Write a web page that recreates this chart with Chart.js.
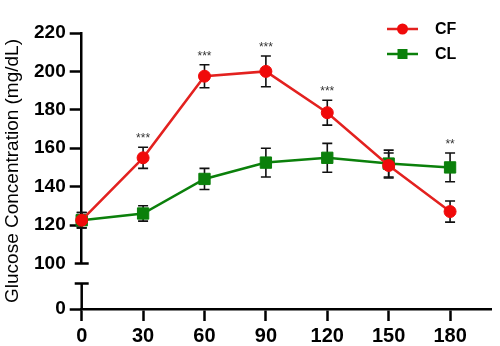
<!DOCTYPE html>
<html>
<head>
<meta charset="utf-8">
<script src="https://cdn.jsdelivr.net/npm/chart.js@4"></script>
<style>
  html, body { margin: 0; padding: 0; background: #fff; }
  #wrap { width: 500px; height: 346px; }
</style>
</head>
<body>
<div id="wrap"><canvas id="chart"></canvas></div>
<script>
// time points (min) and tick labels
const times = [0, 30, 60, 90, 120, 150, 180];
const xTicks = [0, 30, 60, 90, 120, 150, 180];
const upperTicks = [100, 120, 140, 160, 180, 200, 220];
const lowerTicks = [0];

// CF group
const cfMean = [122.5, 155, 197.5, 200, 178.5, 151, 127];
const cfErr = [4, 5.5, 6, 8, 6.5, 6.5, 5.5];
// CL group
const clMean = [122.5, 126, 144, 152.5, 155, 152, 150];
const clErr = [4, 4, 5.5, 7.5, 7.5, 7, 7.5];
// significance marks
const cfSig = ['', '***', '***', '***', '***', '', '**'];

const FONT = '"Liberation Sans", Arial, sans-serif';
const RED = '#f00a0a';
const RED_LINE = '#e3211f';
const GREEN = '#0b800b';
const BREAK_LOW = 11.2;   // top end of the lower axis segment
const BREAK_HIGH = 100;   // bottom end of the upper axis segment

const series = [
  { label: 'CF', mean: cfMean, err: cfErr, color: RED, line: RED_LINE, style: 'circle', r: 6 },
  { label: 'CL', mean: clMean, err: clErr, color: GREEN, line: GREEN, style: 'rect', r: 8 }
];

const extras = {
  id: 'extras',
  beforeDatasetsDraw(chart) {
    const { ctx, scales: { x, y } } = chart;
    ctx.save();
    ctx.strokeStyle = '#111';
    ctx.lineWidth = 1.6;
    series.forEach(s => {
      s.mean.forEach((m, i) => {
        const px = x.getPixelForValue(times[i]);
        const top = y.getPixelForValue(m + s.err[i]);
        const bot = y.getPixelForValue(m - s.err[i]);
        ctx.beginPath();
        ctx.moveTo(px, top); ctx.lineTo(px, bot);
        ctx.moveTo(px - 5, top); ctx.lineTo(px + 5, top);
        ctx.moveTo(px - 5, bot); ctx.lineTo(px + 5, bot);
        ctx.stroke();
      });
    });
    ctx.restore();
  },
  afterDraw(chart) {
    const { ctx, chartArea, scales: { x, y, yLow } } = chart;
    ctx.save();
    // broken y axis: lower segment and the two end caps
    const left = chartArea.left;
    const capLow = yLow.getPixelForValue(BREAK_LOW);
    const capHigh = y.getPixelForValue(BREAK_HIGH);
    ctx.strokeStyle = '#000';
    ctx.lineWidth = 2.5;
    ctx.beginPath();
    ctx.moveTo(left, capLow);
    ctx.lineTo(left, yLow.getPixelForValue(0) + 1);
    ctx.moveTo(left - 7, capLow); ctx.lineTo(left + 7, capLow);
    ctx.moveTo(left - 7, capHigh); ctx.lineTo(left + 7, capHigh);
    ctx.stroke();

    // significance stars
    ctx.fillStyle = '#333';
    ctx.font = '12px ' + FONT;
    ctx.textAlign = 'center';
    ctx.textBaseline = 'alphabetic';
    cfSig.forEach((t, i) => {
      if (!t) return;
      const topVal = Math.max(cfMean[i] + cfErr[i], clMean[i] + clErr[i]);
      ctx.fillText(t, x.getPixelForValue(times[i]), y.getPixelForValue(topVal) - 5);
    });

    // y title
    ctx.fillStyle = '#000';
    ctx.font = '19px ' + FONT;
    ctx.textBaseline = 'middle';
    ctx.translate(13, (chartArea.top + chartArea.bottom) / 2);
    ctx.rotate(-Math.PI / 2);
    ctx.fillText('Glucose Concentration (mg/dL)', 0, 0);
    ctx.restore();

    // legend
    ctx.save();
    series.forEach((s, k) => {
      const ly = 29 + k * 25;
      ctx.strokeStyle = s.line;
      ctx.lineWidth = 2.5;
      ctx.beginPath();
      ctx.moveTo(387, ly); ctx.lineTo(418, ly);
      ctx.stroke();
      ctx.fillStyle = s.color;
      if (s.style === 'circle') {
        ctx.beginPath(); ctx.arc(402.5, ly, 5.5, 0, Math.PI * 2); ctx.fill();
      } else {
        ctx.fillRect(402.5 - 5, ly - 5, 10, 10);
      }
      ctx.fillStyle = '#000';
      ctx.font = 'bold 16px ' + FONT;
      ctx.textAlign = 'left';
      ctx.textBaseline = 'middle';
      ctx.fillText(s.label, 435, ly + 1);
    });
    ctx.restore();
  }
};

const yFont = { family: FONT, size: 19, weight: 'bold' };
const xFont = { family: FONT, size: 20, weight: 'bold' };
const axisGrid = { drawOnChartArea: false, tickLength: 12, tickWidth: 2.5, tickColor: '#000' };

new Chart(document.getElementById('chart'), {
  type: 'line',
  data: {
    datasets: series.map(s => ({
      label: s.label,
      data: times.map((t, i) => ({ x: t, y: s.mean[i] })),
      yAxisID: 'y',
      borderColor: s.line,
      borderWidth: 2.5,
      backgroundColor: s.color,
      pointBackgroundColor: s.color,
      pointBorderColor: s.color,
      pointStyle: s.style,
      pointRadius: s.r,
      pointBorderWidth: 1,
      tension: 0,
      clip: false
    }))
  },
  options: {
    responsive: true,
    maintainAspectRatio: false,
    animation: false,
    layout: { padding: { left: 30, top: 33, right: 5, bottom: -6 } },
    plugins: { legend: { display: false }, tooltip: { enabled: false } },
    scales: {
      x: {
        type: 'linear',
        min: 0,
        max: 200,
        afterBuildTicks: s => { s.ticks = xTicks.map(v => ({ value: v })); },
        grid: axisGrid,
        border: { color: '#000', width: 2.5 },
        ticks: { font: xFont, color: '#000', padding: 3.5, maxRotation: 0, autoSkip: false }
      },
      y: {
        type: 'linear',
        position: 'left',
        stack: 'glu',
        stackWeight: 230 / 45.5,
        weight: 1,
        min: 100,
        max: 220,
        afterBuildTicks: s => { s.ticks = upperTicks.map(v => ({ value: v })); },
        grid: { ...axisGrid, tickColor: c => (c.tick && c.tick.value === BREAK_HIGH ? 'rgba(0,0,0,0)' : '#000') },
        border: { color: '#000', width: 2.5 },
        ticks: { font: yFont, color: '#000', padding: 4, autoSkip: false }
      },
      yLow: {
        type: 'linear',
        position: 'left',
        stack: 'glu',
        stackWeight: 1,
        weight: 0,
        min: 0,
        max: 20,
        afterBuildTicks: s => { s.ticks = lowerTicks.map(v => ({ value: v })); },
        grid: axisGrid,
        border: { display: false },
        ticks: { font: yFont, color: '#000', padding: 4, autoSkip: false }
      }
    }
  },
  plugins: [extras]
});
</script>
</body>
</html>
